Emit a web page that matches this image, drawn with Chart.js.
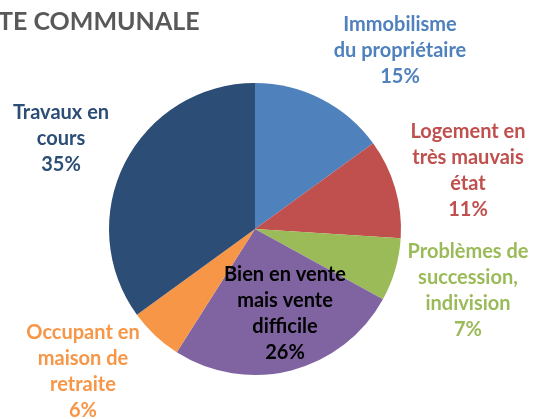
<!DOCTYPE html>
<html>
<head>
<meta charset="utf-8">
<script src="https://cdn.jsdelivr.net/npm/chart.js@4/dist/chart.umd.min.js"></script>
<style>
html,body{margin:0;padding:0;background:#fff;}
#wrap{position:relative;width:534px;height:419px;}
</style>
</head>
<body>
<div id="wrap"><canvas id="c" width="534" height="419"></canvas></div>
<script>
const categories = [
  ["Immobilisme", "du propriétaire"],
  ["Logement en", "très mauvais", "état"],
  ["Problèmes de", "succession,", "indivision"],
  ["Bien en vente", "mais vente", "difficile"],
  ["Occupant en", "maison de", "retraite"],
  ["Travaux en", "cours"]
];
const values = [15, 11, 7, 26, 6, 35];
const sliceColors = ["#4F81BD", "#C0504D", "#9BBB59", "#8064A2", "#F79646", "#2C4D75"];
const labelColors = ["#4F81BD", "#C0504D", "#9BBB59", "#000000", "#F79646", "#2C4D75"];
const titleText = "TE COMMUNALE";
// label block anchors (x, first line y) in pixels
const labelAnchors = [[400, 25], [468, 132], [468, 252], [285, 275], [83, 333], [61, 113]];

const FONT = 'bold 20px Lato, "Open Sans", sans-serif';
const LINE_H = 26;

const labelPlugin = {
  id: 'labels',
  afterDraw(chart) {
    const ctx = chart.ctx;
    ctx.save();
    ctx.font = 'bold 25px Lato, "Open Sans", sans-serif';
    ctx.fillStyle = '#595959';
    ctx.textAlign = 'left';
    ctx.textBaseline = 'alphabetic';
    ctx.fillText(titleText, -2, 30);
    ctx.font = FONT;
    ctx.textAlign = 'center';
    ctx.textBaseline = 'middle';
    const total = values.reduce((a, b) => a + b, 0);
    categories.forEach((lines, i) => {
      const pct = Math.round(values[i] / total * 100) + '%';
      const all = lines.concat([pct]);
      const [x, y0] = labelAnchors[i];
      ctx.fillStyle = labelColors[i];
      all.forEach((t, j) => ctx.fillText(t, x, y0 + j * LINE_H));
    });
    ctx.restore();
  }
};

new Chart(document.getElementById('c'), {
  type: 'pie',
  data: {
    labels: categories.map(l => l.join(' ')),
    datasets: [{
      data: values,
      backgroundColor: sliceColors,
      borderWidth: 0
    }]
  },
  options: {
    responsive: false,
    animation: false,
    layout: { padding: { left: 109, right: 133, top: 83, bottom: 44 } },
    plugins: { legend: { display: false }, tooltip: { enabled: false }, title: { display: false } }
  },
  plugins: [labelPlugin]
});
</script>
</body>
</html>
